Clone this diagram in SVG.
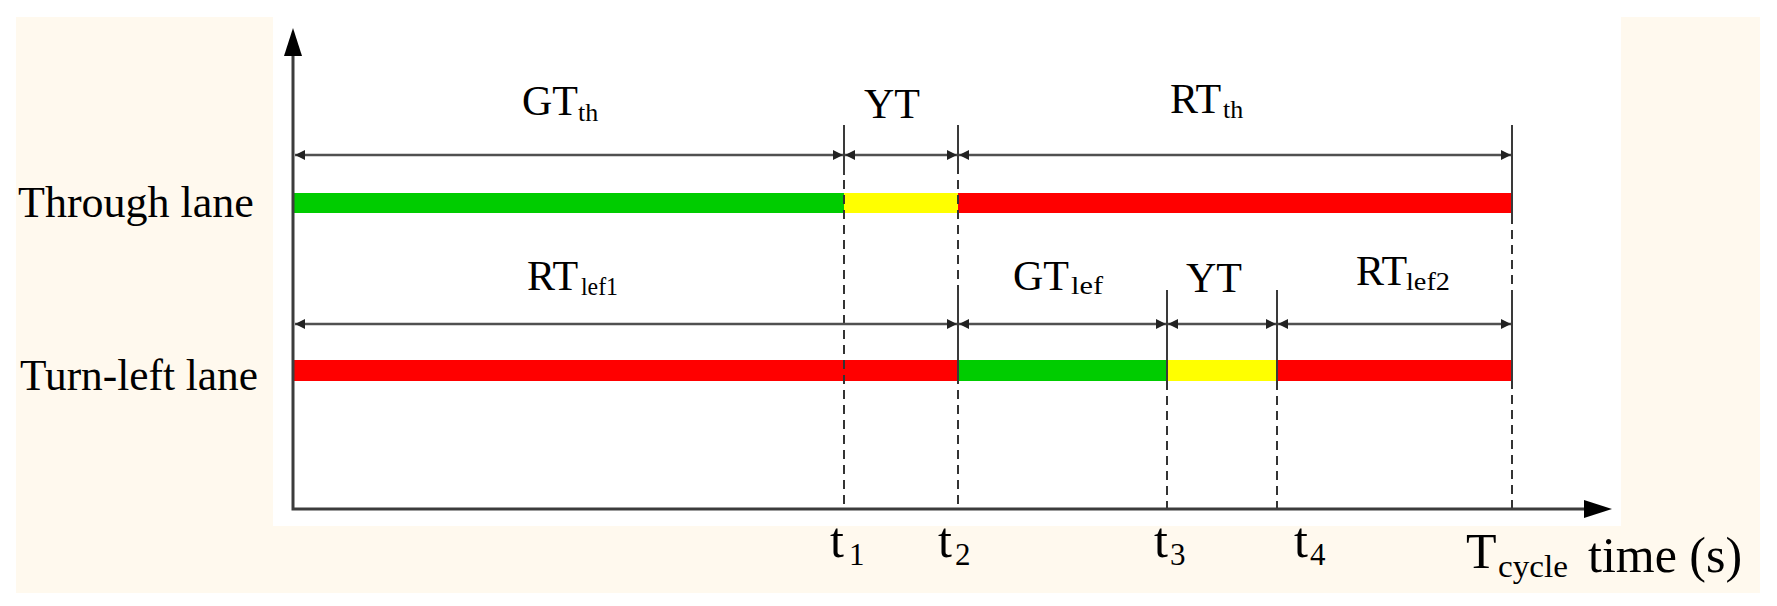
<svg xmlns="http://www.w3.org/2000/svg" width="1777" height="606" viewBox="0 0 1777 606">
<style>
text{font-family:"Liberation Serif","Times New Roman",serif;fill:#000}
.lane{font-size:44px}
.lbl{font-size:42px}
.sub{font-size:26px}
.tl{font-size:50px}
.tsub{font-size:31px}
.dim{stroke:#505050;stroke-width:2.5;fill:none}
.tick{stroke:#3a3a3a;stroke-width:2;fill:none}
.dash{stroke:#333;stroke-width:2;stroke-dasharray:9 6;fill:none}
.axis{stroke:#3c3c3c;stroke-width:3;fill:none}
</style>
<defs>
<marker id="ah" viewBox="0 0 10 10" refX="10" refY="5" markerWidth="10" markerHeight="11" markerUnits="userSpaceOnUse" orient="auto-start-reverse">
<path d="M0,0 L10,5 L0,10 z" fill="#222"/>
</marker>
</defs>
<rect id="bg" x="0" y="0" width="1777" height="606" fill="#fff"/>
<rect id="frame" x="16" y="17" width="1744" height="576" fill="#FFF9EE"/>
<rect id="plot" x="273" y="17" width="1348" height="509" fill="#fff"/>

<g id="through-bar">
<rect x="293" y="193" width="551" height="20" fill="#00CC00"/>
<rect x="844" y="193" width="114" height="20" fill="#FFFF00"/>
<rect x="958" y="193" width="554" height="20" fill="#FF0000"/>
</g>
<g id="turnleft-bar">
<rect x="293" y="360" width="665" height="21" fill="#FF0000"/>
<rect x="958" y="360" width="209" height="21" fill="#00CC00"/>
<rect x="1167" y="360" width="110" height="21" fill="#FFFF00"/>
<rect x="1277" y="360" width="235" height="21" fill="#FF0000"/>
</g>

<g id="connectors">
<line class="dash" x1="844" y1="165" x2="844" y2="509"/>
<line class="dash" x1="958" y1="165" x2="958" y2="509"/>
<line class="dash" x1="1167" y1="381" x2="1167" y2="509"/>
<line class="dash" x1="1277" y1="381" x2="1277" y2="509"/>
<line class="dash" x1="1512" y1="215" x2="1512" y2="509"/>
<line class="tick" x1="844" y1="125" x2="844" y2="175"/>
<line class="tick" x1="958" y1="125" x2="958" y2="170"/>
<line class="tick" x1="1512" y1="125" x2="1512" y2="220"/>
<line class="tick" x1="958" y1="290" x2="958" y2="381"/>
<line class="tick" x1="1167" y1="290" x2="1167" y2="381"/>
<line class="tick" x1="1277" y1="290" x2="1277" y2="381"/>
<line class="tick" x1="1512" y1="290" x2="1512" y2="381"/>
<line class="dim" x1="295" y1="155" x2="843" y2="155" marker-start="url(#ah)" marker-end="url(#ah)"/>
<line class="dim" x1="845" y1="155" x2="957" y2="155" marker-start="url(#ah)" marker-end="url(#ah)"/>
<line class="dim" x1="959" y1="155" x2="1511" y2="155" marker-start="url(#ah)" marker-end="url(#ah)"/>
<line class="dim" x1="295" y1="324" x2="957" y2="324" marker-start="url(#ah)" marker-end="url(#ah)"/>
<line class="dim" x1="959" y1="324" x2="1166" y2="324" marker-start="url(#ah)" marker-end="url(#ah)"/>
<line class="dim" x1="1168" y1="324" x2="1276" y2="324" marker-start="url(#ah)" marker-end="url(#ah)"/>
<line class="dim" x1="1278" y1="324" x2="1511" y2="324" marker-start="url(#ah)" marker-end="url(#ah)"/>
</g>

<g id="axes">
<polyline class="axis" points="293,52 293,509 1588,509"/>
<path d="M293,28 L302,56 L284,56 z" fill="#000"/>
<path d="M1612,509 L1584,500 L1584,518 z" fill="#000"/>
</g>

<g id="lane-labels">
<text class="lane" x="18" y="217">Through lane</text>
<text class="lane" x="20" y="390" textLength="238" lengthAdjust="spacingAndGlyphs">Turn-left lane</text>
</g>

<g id="phase-labels">
<text class="lbl" x="522" y="115">GT<tspan class="sub" x="578" y="121">th</tspan></text>
<text class="lbl" x="864" y="118">YT</text>
<text class="lbl" x="1170" y="113">RT<tspan class="sub" x="1223" y="118">th</tspan></text>
<text class="lbl" x="527" y="290">RT<tspan class="sub" x="581" y="295" textLength="37" lengthAdjust="spacingAndGlyphs">lef1</tspan></text>
<text class="lbl" x="1013" y="290">GT<tspan class="sub" x="1071" y="294" textLength="32" lengthAdjust="spacingAndGlyphs">lef</tspan></text>
<text class="lbl" x="1186" y="292">YT</text>
<text class="lbl" x="1356" y="285">RT<tspan class="sub" x="1406" y="290" textLength="44" lengthAdjust="spacingAndGlyphs">lef2</tspan></text>
</g>

<g id="time-labels">
<text class="tl" x="830" y="557">t<tspan class="tsub" x="849" y="565">1</tspan></text>
<text class="tl" x="938" y="557">t<tspan class="tsub" x="955" y="565">2</tspan></text>
<text class="tl" x="1154" y="557">t<tspan class="tsub" x="1170" y="565">3</tspan></text>
<text class="tl" x="1294" y="557">t<tspan class="tsub" x="1310" y="565">4</tspan></text>
<text class="tl" x="1466" y="568">T<tspan class="tsub" x="1498" y="577" textLength="70" lengthAdjust="spacingAndGlyphs">cycle</tspan></text>
<text class="tl" x="1588" y="572">time (s)</text>
</g>
</svg>
